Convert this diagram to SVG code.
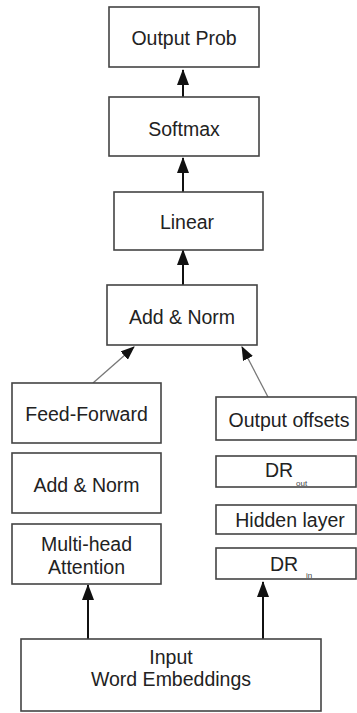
<svg xmlns="http://www.w3.org/2000/svg" width="357" height="713" viewBox="0 0 357 713">
<style>
.box{fill:#fff;stroke:#444;stroke-width:1.6}
.t{font-family:"Liberation Sans",Arial,sans-serif;font-size:19.5px;fill:#222;text-anchor:middle}
.sub{font-family:"Liberation Sans",Arial,sans-serif;font-size:8px;fill:#444}
.a{stroke:#111;stroke-width:2;fill:none}
.g{stroke:#777;stroke-width:1.3;fill:none}
</style>
<defs>
<marker id="ah" markerWidth="16" markerHeight="12" refX="15" refY="6" orient="auto" markerUnits="userSpaceOnUse" viewBox="0 0 16 12">
<path d="M0,0 L16,6 L0,12 Z" fill="#111"/>
</marker>
<marker id="ahg" markerWidth="14" markerHeight="11" refX="13" refY="5.5" orient="auto" markerUnits="userSpaceOnUse" viewBox="0 0 14 11">
<path d="M0,0 L14,5.5 L0,11 Z" fill="#111"/>
</marker>
</defs>
<rect width="357" height="713" fill="#fff"/>
<g id="connectors">
<line class="a" x1="183" y1="97" x2="183" y2="70" marker-end="url(#ah)"/>
<line class="a" x1="183" y1="192" x2="183" y2="158" marker-end="url(#ah)"/>
<line class="a" x1="183" y1="285" x2="183" y2="250" marker-end="url(#ah)"/>
<line class="g" x1="93" y1="383" x2="134" y2="347" marker-end="url(#ahg)"/>
<line class="g" x1="268" y1="397" x2="242" y2="347" marker-end="url(#ahg)"/>
<line class="a" x1="88" y1="639" x2="88" y2="585" marker-end="url(#ah)"/>
<line class="a" x1="263" y1="639" x2="263" y2="582" marker-end="url(#ah)"/>
</g>
<g id="output-prob"><rect class="box" x="109" y="7" width="150" height="60"/><text class="t" x="184" y="45">Output Prob</text></g>
<g id="softmax"><rect class="box" x="109" y="97" width="150" height="59"/><text class="t" x="184" y="136">Softmax</text></g>
<g id="linear"><rect class="box" x="114" y="192" width="149" height="58"/><text class="t" x="187" y="229">Linear</text></g>
<g id="add-norm-top"><rect class="box" x="107" y="285" width="150" height="60"/><text class="t" x="182" y="324">Add &amp; Norm</text></g>
<g id="feed-forward"><rect class="box" x="12" y="383" width="149" height="60"/><text class="t" x="86.5" y="421">Feed-Forward</text></g>
<g id="add-norm-left"><rect class="box" x="12" y="453" width="149" height="60"/><text class="t" x="86.5" y="492">Add &amp; Norm</text></g>
<g id="multi-head"><rect class="box" x="12" y="524" width="149" height="60"/><text class="t" x="86.5" y="551">Multi-head</text><text class="t" x="86.5" y="574">Attention</text></g>
<g id="output-offsets"><rect class="box" x="216" y="397" width="140" height="43"/><text class="t" x="289" y="427">Output offsets</text></g>
<g id="dr-out"><rect class="box" x="216" y="456" width="140" height="31"/><text class="t" x="279" y="477">DR</text><text class="sub" x="296" y="486">out</text></g>
<g id="hidden-layer"><rect class="box" x="216" y="505" width="140" height="29"/><text class="t" x="290" y="527">Hidden layer</text></g>
<g id="dr-in"><rect class="box" x="216" y="548" width="140" height="31"/><text class="t" x="284" y="571">DR</text><text class="sub" x="306" y="578">in</text></g>
<g id="input"><rect class="box" x="21" y="639" width="300" height="72"/><text class="t" x="171" y="664">Input</text><text class="t" x="171" y="686">Word Embeddings</text></g>
</svg>
